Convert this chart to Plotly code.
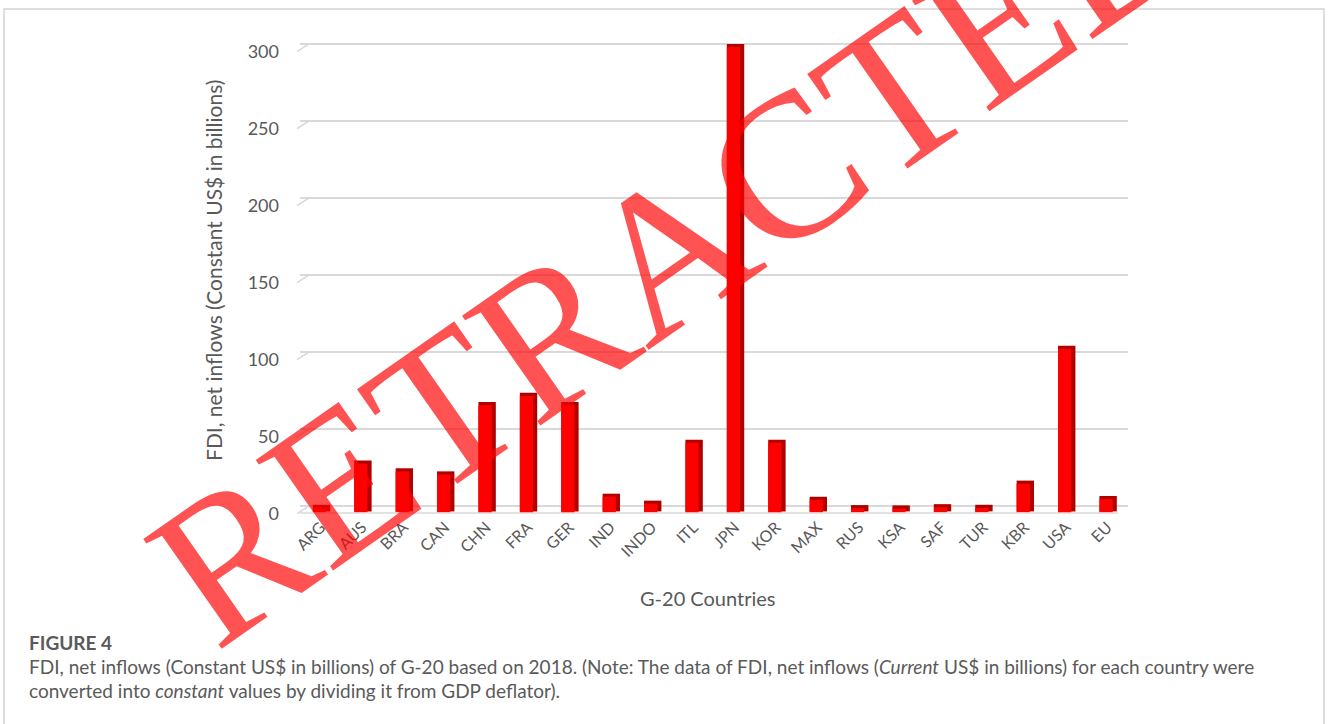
import plotly.graph_objects as go

countries = ["ARG", "AUS", "BRA", "CAN", "CHN", "FRA", "GER", "IND", "INDO", "ITL",
             "JPN", "KOR", "MAX", "RUS", "KSA", "SAF", "TUR", "KBR", "USA", "EU"]
fdi_values = [0.8, 29.5, 24.5, 22.5, 67.5, 73.5, 67.5, 8.0, 3.5, 43.0,
              300.0, 43.0, 6.0, 0.6, 0.4, 1.2, 0.8, 16.5, 104.0, 6.5]
y_ticks = [0, 50, 100, 150, 200, 250, 300]

W, H = 1328, 724
L, R, T, PH = 300, 200, 35, 479
B = H - T - PH
PW = W - L - R


def px_x(px):
    return (px - L) / PW


def px_y(py):
    return (T + PH - py) / PH


side_vals = [v + 3.5 for v in fdi_values]
front_vals = [v + 2.0 for v in fdi_values]

fig = go.Figure()
fig.add_trace(go.Bar(x=countries, y=side_vals, base=-3.5, width=0.42, offset=-0.19,
                     marker=dict(color="#b00000", line=dict(width=0)), hoverinfo="skip"))
fig.add_trace(go.Bar(x=countries, y=front_vals, base=-4.0, width=0.32, offset=-0.19,
                     marker=dict(color="#ff0000", line=dict(width=0)),
                     customdata=fdi_values, hovertemplate="%{x}: %{customdata}<extra></extra>"))

fig.update_layout(
    width=W, height=H,
    margin=dict(l=L, r=R, t=T, b=B),
    paper_bgcolor="white", plot_bgcolor="white",
    barmode="overlay", showlegend=False,
    font=dict(family="Lato", color="#595959"),
    xaxis=dict(tickangle=-45, tickfont=dict(family="Lato", size=16, color="#595959"),
               showgrid=False, zeroline=False, showline=False, ticks="",
               range=[-0.5, len(countries) - 0.5]),
    yaxis=dict(range=[-5.19, 305.84], tickvals=y_ticks,
               tickfont=dict(family="Lato", size=18, color="#595959"),
               showgrid=True, gridcolor="#d9d9d9", gridwidth=1.5,
               zeroline=False, showline=False, ticks="", ticklabelstandoff=20,
               ticklabelshift=8),
)

anns = [
    dict(text="FDI, net inflows (Constant US$ in billions)", textangle=-90,
         x=px_x(213), y=px_y(271), font=dict(family="Lato", size=21, color="#595959")),
    dict(text="G-20 Countries", x=px_x(708), y=px_y(598),
         font=dict(family="Lato", size=20, color="#595959")),
    dict(text="<b>FIGURE 4</b>", x=px_x(27), y=px_y(642), xanchor="left",
         font=dict(family="Lato", size=19, color="#5a5a5a")),
    dict(text="FDI, net inflows (Constant US$ in billions) of G-20 based on 2018. (Note: The data of FDI, net inflows (<i>Current</i> US$ in billions) for each country were",
         x=px_x(27), y=px_y(666), xanchor="left",
         font=dict(family="Lato", size=19, color="#5a5a5a")),
    dict(text="converted into <i>constant</i> values by dividing it from GDP deflator).",
         x=px_x(27), y=px_y(690), xanchor="left",
         font=dict(family="Lato", size=19, color="#5a5a5a")),
    dict(text="RETRACTED", textangle=-35, x=px_x(672), y=px_y(248),
         font=dict(family="Liberation Serif", size=206, color="rgba(255,0,0,0.68)")),
]
for a in anns:
    a.setdefault("xanchor", "center")
    a.update(xref="paper", yref="paper", yanchor="middle", showarrow=False)
fig.update_layout(annotations=anns)

fig.add_shape(type="rect", xref="paper", yref="paper",
              x0=px_x(4), x1=px_x(1324), y0=px_y(740), y1=px_y(9),
              line=dict(color="#d4d4d4", width=1.5), fillcolor="rgba(0,0,0,0)", layer="below")
fig.add_shape(type="line", xref="paper", yref="paper",
              x0=px_x(300), x1=px_x(1118), y0=px_y(513), y1=px_y(513),
              line=dict(color="#d9d9d9", width=1.5), layer="below")
for t in y_ticks:
    fig.add_shape(type="line", xref="paper", yref="y",
                  x0=px_x(297), x1=px_x(309), y0=t - 5.0, y1=t,
                  line=dict(color="#d9d9d9", width=1.5), layer="below")

fig.write_html("out.html")
